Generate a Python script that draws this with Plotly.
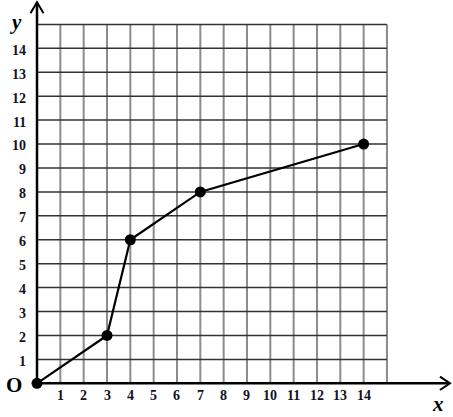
import plotly.graph_objects as go

# data
x_vals = [0, 3, 4, 7, 14]
y_vals = [0, 2, 6, 8, 10]
x_ticks = list(range(1, 15))
y_ticks = list(range(1, 15))
grid_max = 15

fig = go.Figure()
fig.add_trace(go.Scatter(x=x_vals, y=y_vals, mode="lines+markers",
                         line=dict(color="black", width=2.2),
                         marker=dict(color="black", size=11),
                         cliponaxis=False, hoverinfo="skip"))

shapes = []
# vertical grid lines
for g in range(1, grid_max + 1):
    shapes.append(dict(type="line", xref="x", yref="y", x0=g, x1=g, y0=0, y1=grid_max,
                       line=dict(color="#8c8c8c", width=2), layer="below"))
# horizontal grid lines
for g in range(1, grid_max + 1):
    shapes.append(dict(type="line", xref="x", yref="y", x0=0, x1=grid_max, y0=g, y1=g,
                       line=dict(color="#333333", width=1.5), layer="below"))
# axes
shapes.append(dict(type="line", x0=0, x1=17.7, y0=0, y1=0, line=dict(color="black", width=2.5)))
shapes.append(dict(type="line", x0=0, x1=0, y0=0, y1=15.93, line=dict(color="black", width=2.5)))
# arrowheads
shapes.append(dict(type="path", path="M 17.27 0.28 L 17.7 0 L 17.27 -0.28",
                   line=dict(color="black", width=2)))
shapes.append(dict(type="path", path="M -0.28 15.47 L 0 15.93 L 0.28 15.47",
                   line=dict(color="black", width=2)))

ann = []
tick_font = dict(family="Liberation Serif", size=14, color="#111122")
for t in x_ticks:
    ann.append(dict(x=t, y=-0.5, text=f"<b>{t}</b>", showarrow=False, font=tick_font,
                    xanchor="center", yanchor="middle"))
for t in y_ticks:
    ann.append(dict(x=-0.38, y=t - 0.08, text=f"<b>{t}</b>", showarrow=False, font=tick_font,
                    xanchor="right", yanchor="middle"))
ann.append(dict(x=-0.99, y=-0.05, text="<b>O</b>", showarrow=False,
                font=dict(family="Liberation Serif", size=21, color="black"),
                xanchor="center", yanchor="middle"))
ann.append(dict(x=-0.94, y=15.1, text="<b><i>y</i></b>", showarrow=False,
                font=dict(family="Liberation Serif", size=21, color="black"),
                xanchor="center", yanchor="middle"))
ann.append(dict(x=17.2, y=-0.88, text="<b><i>x</i></b>", showarrow=False,
                font=dict(family="Liberation Serif", size=21, color="black"),
                xanchor="center", yanchor="middle"))

fig.update_layout(
    width=453, height=417,
    margin=dict(l=0, r=0, t=0, b=0),
    paper_bgcolor="white", plot_bgcolor="white",
    showlegend=False,
    xaxis=dict(range=[-1.586, 17.83], visible=False, fixedrange=True),
    yaxis=dict(range=[-1.408, 16.02], visible=False, fixedrange=True),
    shapes=shapes, annotations=ann,
)
fig.write_html("out.html", config={"displayModeBar": False},
               post_script="document.body.style.margin='0';document.body.style.overflow='hidden';")
